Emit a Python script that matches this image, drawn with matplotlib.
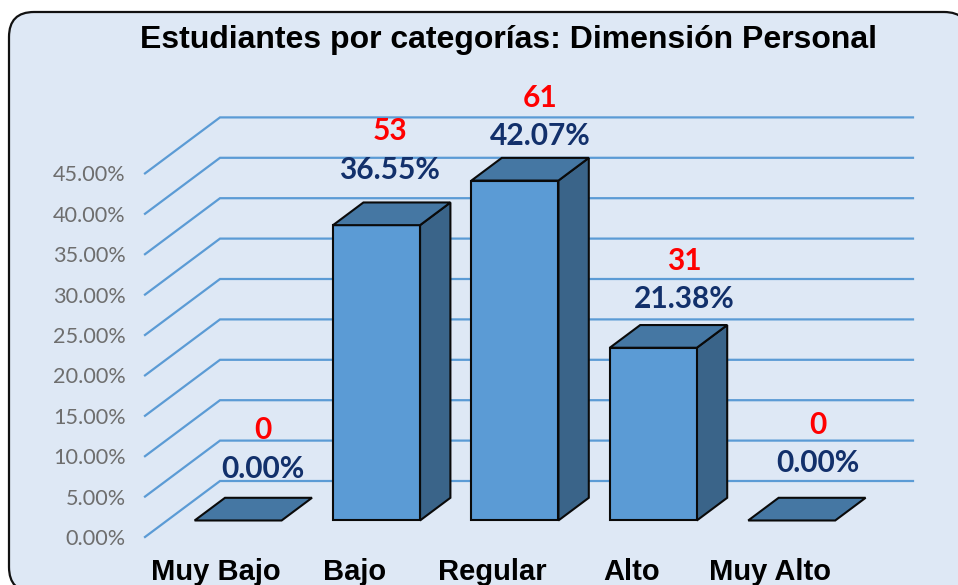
import matplotlib
matplotlib.use("Agg")
import matplotlib.pyplot as plt
from matplotlib.patches import FancyBboxPatch, Polygon
from matplotlib.transforms import IdentityTransform

# --- data ---
categories = ["Muy Bajo", "Bajo", "Regular", "Alto", "Muy Alto"]
percentages = [0.00, 36.55, 42.07, 21.38, 0.00]
counts = [0, 53, 61, 31, 0]
y_ticks = [0, 5, 10, 15, 20, 25, 30, 35, 40, 45]
title = "Estudiantes por categorías: Dimensión Personal"

# --- label nudges in pixels relative to the bar's front top centre ---
label_dx = [25, 13, 25, 31, 26]
pct_dy = [51, 55, 45, 49, 57]
count_dy = [90, 94, 83, 87, 95]

W, H = 958, 585
BG = "#DEE8F5"
GRID = "#5B9BD5"
FRONT = "#5B9BD5"
SIDE = "#3A6489"
TOP = "#4577A3"

fig = plt.figure(figsize=(W / 100, H / 100), dpi=100, facecolor="white")

# rounded panel (runs off the right and bottom of the picture)
fig.add_artist(FancyBboxPatch((9 + 25, H - 592 + 25), 960 - 50, 580 - 50,
                              boxstyle="round,pad=25,rounding_size=25",
                              transform=IdentityTransform(),
                              facecolor=BG, edgecolor="#111111", linewidth=1.6,
                              zorder=-5))

# plot area: x 145..913 px, y 537..117.5 px
L, R, B, T = 145, 913, 537, 117.5
ax = fig.add_axes([L / W, 1 - B / H, (R - L) / W, (B - T) / H])
ax.patch.set_alpha(0)
PX_X = 138.4
PX_Y = 8.08
xmin, xmax = (L - 216) / PX_X, (R - 216) / PX_X
ax.set_xlim(xmin, xmax)
ax.set_ylim(0, (B - T) / PX_Y)
for s in ax.spines.values():
    s.set_visible(False)

DX, DY = 75 / PX_X, 56 / PX_Y   # shift of a unit of depth
D0, D1 = 0.295, 0.70            # bar front and back depth
BW = 87 / PX_X


def proj(x, y, d):
    return (x + d * DX, y + d * DY)


# wall gridlines
for v in y_ticks:
    pts = [proj(xmin, v, 0), proj(xmin, v, 1), (xmax, v + DY)]
    ax.plot(*zip(*pts), color=GRID, lw=1.6, zorder=1, clip_on=False,
            solid_joinstyle="miter")

# bars
edge = dict(edgecolor="#0A0A0A", linewidth=1.5, joinstyle="miter", clip_on=False)
for i, v in enumerate(percentages):
    x0, x1 = i - BW / 2, i + BW / 2
    z = 3 + i
    if v > 0:
        ax.add_patch(Polygon([proj(x1, 0, D0), proj(x1, 0, D1), proj(x1, v, D1), proj(x1, v, D0)],
                             facecolor=SIDE, zorder=z, **edge))
        ax.add_patch(Polygon([proj(x0, 0, D0), proj(x1, 0, D0), proj(x1, v, D0), proj(x0, v, D0)],
                             facecolor=FRONT, zorder=z, **edge))
    ax.add_patch(Polygon([proj(x0, v, D0), proj(x1, v, D0), proj(x1, v, D1), proj(x0, v, D1)],
                         facecolor=TOP, zorder=z, **edge))
    cx, cy = proj(i, v, D0)
    ax.annotate(f"{v:.2f}%", (cx, cy), xytext=(label_dx[i] * 0.72, pct_dy[i] * 0.72),
                textcoords="offset points", ha="center", va="center",
                family="Lato", weight="bold", fontsize=21.5, color="#12306B", zorder=20,
                annotation_clip=False)
    ax.annotate(str(counts[i]), (cx, cy), xytext=(label_dx[i] * 0.72, count_dy[i] * 0.72),
                textcoords="offset points", ha="center", va="center",
                family="Lato", weight="bold", fontsize=21.5, color="#FF0000", zorder=20,
                annotation_clip=False)

# axes text
ax.set_yticks(y_ticks)
ax.set_yticklabels([f"{v:.2f}%" for v in y_ticks], family="Lato", fontsize=15.6, color="#6E6E6E")
ax.set_xticks(range(len(categories)))
ax.set_xticklabels(categories, family="Liberation Sans", weight="bold", fontsize=21, color="black")
ax.tick_params(axis="y", length=0, pad=14)
ax.tick_params(axis="x", length=0, pad=15)

fig.text(508 / W, 1 - 40 / H, title, ha="center", va="center",
         family="Liberation Sans", weight="bold", fontsize=23, color="black")

fig.savefig("out.png", dpi=100, facecolor="white")
